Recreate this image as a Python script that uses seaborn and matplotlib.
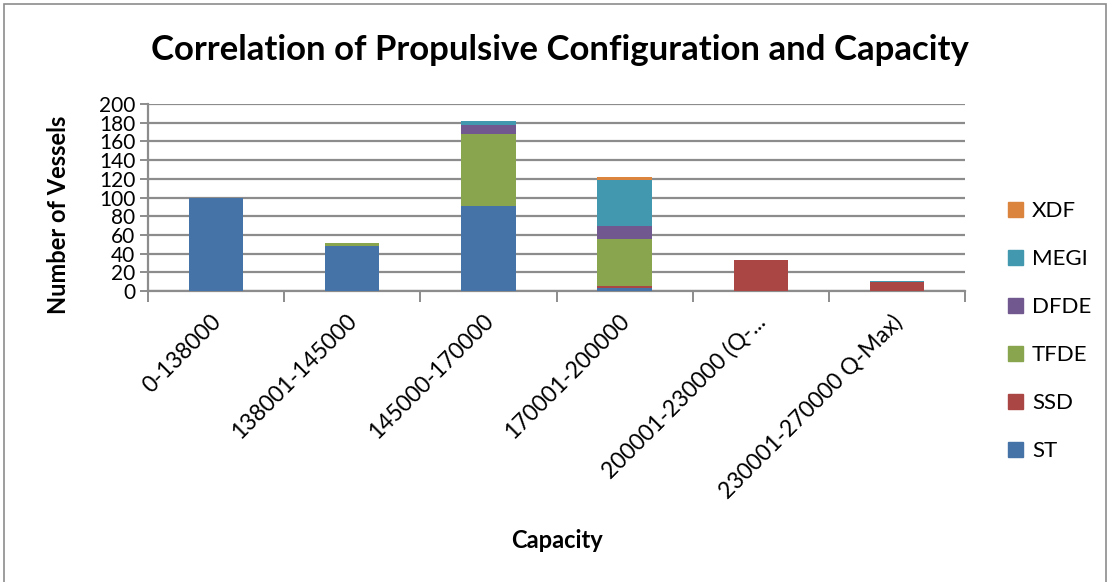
import matplotlib
matplotlib.use("Agg")
import matplotlib.pyplot as plt
import matplotlib.patches as mpatches
import matplotlib.transforms as mtransforms
import seaborn as sns
import numpy as np

# Capacity bands and vessel counts per propulsion type
capacity = ["0-138000", "138001-145000", "145000-170000", "170001-200000",
            "200001-230000 (Q-...", "230001-270000 Q-Max)"]
st = [99, 48, 91, 3, 0, 0]
ssd = [0, 0, 0, 2, 33, 10]
tfde = [0, 3, 77, 51, 0, 0]
dfde = [0, 0, 10, 13, 0, 0]
megi = [0, 0, 4, 50, 0, 1]
xdf = [0, 0, 0, 3, 0, 0]

series = [("ST", st, "#4572A7"), ("SSD", ssd, "#AA4643"), ("TFDE", tfde, "#89A54E"),
          ("DFDE", dfde, "#71588F"), ("MEGI", megi, "#4198AF"), ("XDF", xdf, "#DB843D")]

sns.set_style("white")
plt.rcParams["font.family"] = ["Lato", "DejaVu Sans"]
plt.rcParams["text.color"] = "black"
plt.rcParams["xtick.color"] = "black"
plt.rcParams["ytick.color"] = "black"

fig = plt.figure(figsize=(11.1, 5.82), dpi=100)
ax = fig.add_axes([148 / 1110, 1 - 291 / 582, (965 - 148) / 1110, (291 - 104) / 582])

grid_col = "#8c8c8c"
bottom = np.zeros(len(capacity))
handles = []
for name, vals, col in series:
    sns.barplot(x=capacity, y=vals, bottom=bottom, color=col, width=0.4,
                ax=ax, saturation=1, linewidth=0, zorder=3)
    bottom = bottom + np.array(vals)
    handles.append(mpatches.Patch(color=col, label=name))

ax.set_ylim(0, 200)
ax.set_xlim(-0.5, len(capacity) - 0.5)
ax.set_yticks(range(0, 201, 20))
ax.yaxis.grid(True, color=grid_col, linewidth=1.6, zorder=0)
ax.set_axisbelow(True)
for s in ["top", "right"]:
    ax.spines[s].set_visible(False)
for s in ["left", "bottom"]:
    ax.spines[s].set_color(grid_col)
    ax.spines[s].set_linewidth(1.6)

ax.tick_params(axis="y", which="major", length=6, width=1.4, color=grid_col,
               labelsize=15, pad=3, direction="out", left=True, labelcolor="black")
ax.set_xticks(np.arange(-0.5, len(capacity), 1.0), minor=True)
ax.tick_params(axis="x", which="minor", length=8, width=1.4, color=grid_col, bottom=True)
ax.tick_params(axis="x", which="major", length=0, labelsize=16.5, pad=14, labelcolor="black")
ax.set_xticks(range(len(capacity)))
ax.set_xticklabels(capacity, rotation=45, ha="right", rotation_mode="anchor")
shift = mtransforms.ScaledTranslation(-6 / 100, 0, fig.dpi_scale_trans)
for lbl in ax.get_xticklabels():
    lbl.set_transform(lbl.get_transform() + shift)

ax.set_ylabel("")
ax.set_xlabel("")
fig.text(59 / 1110, 1 - 215 / 582, "Number of Vessels", ha="center", va="center",
         rotation=90, fontsize=17, fontweight="bold")
fig.text(557 / 1110, 1 - 540 / 582, "Capacity", ha="center", va="center",
         fontsize=17, fontweight="bold")
fig.text(560 / 1110, 1 - 50 / 582, "Correlation of Propulsive Configuration and Capacity",
         ha="center", va="center", fontsize=25, fontweight="bold")

leg = fig.legend(handles=handles[::-1], loc="center left",
                 bbox_to_anchor=(1008 / 1110, 1 - 331 / 582), frameon=False,
                 fontsize=16, handlelength=0.68, handleheight=0.68,
                 labelspacing=1.26, handletextpad=0.4, borderpad=0, borderaxespad=0)

# outer chart border
fig.patches.append(mpatches.Rectangle((4 / 1110, -0.02), 1102 / 1110, 1.0 + 0.02 - 4 / 582,
                                      transform=fig.transFigure, fill=False,
                                      edgecolor="#8c8c8c", linewidth=1.2))

fig.savefig("out.png", dpi=100)
